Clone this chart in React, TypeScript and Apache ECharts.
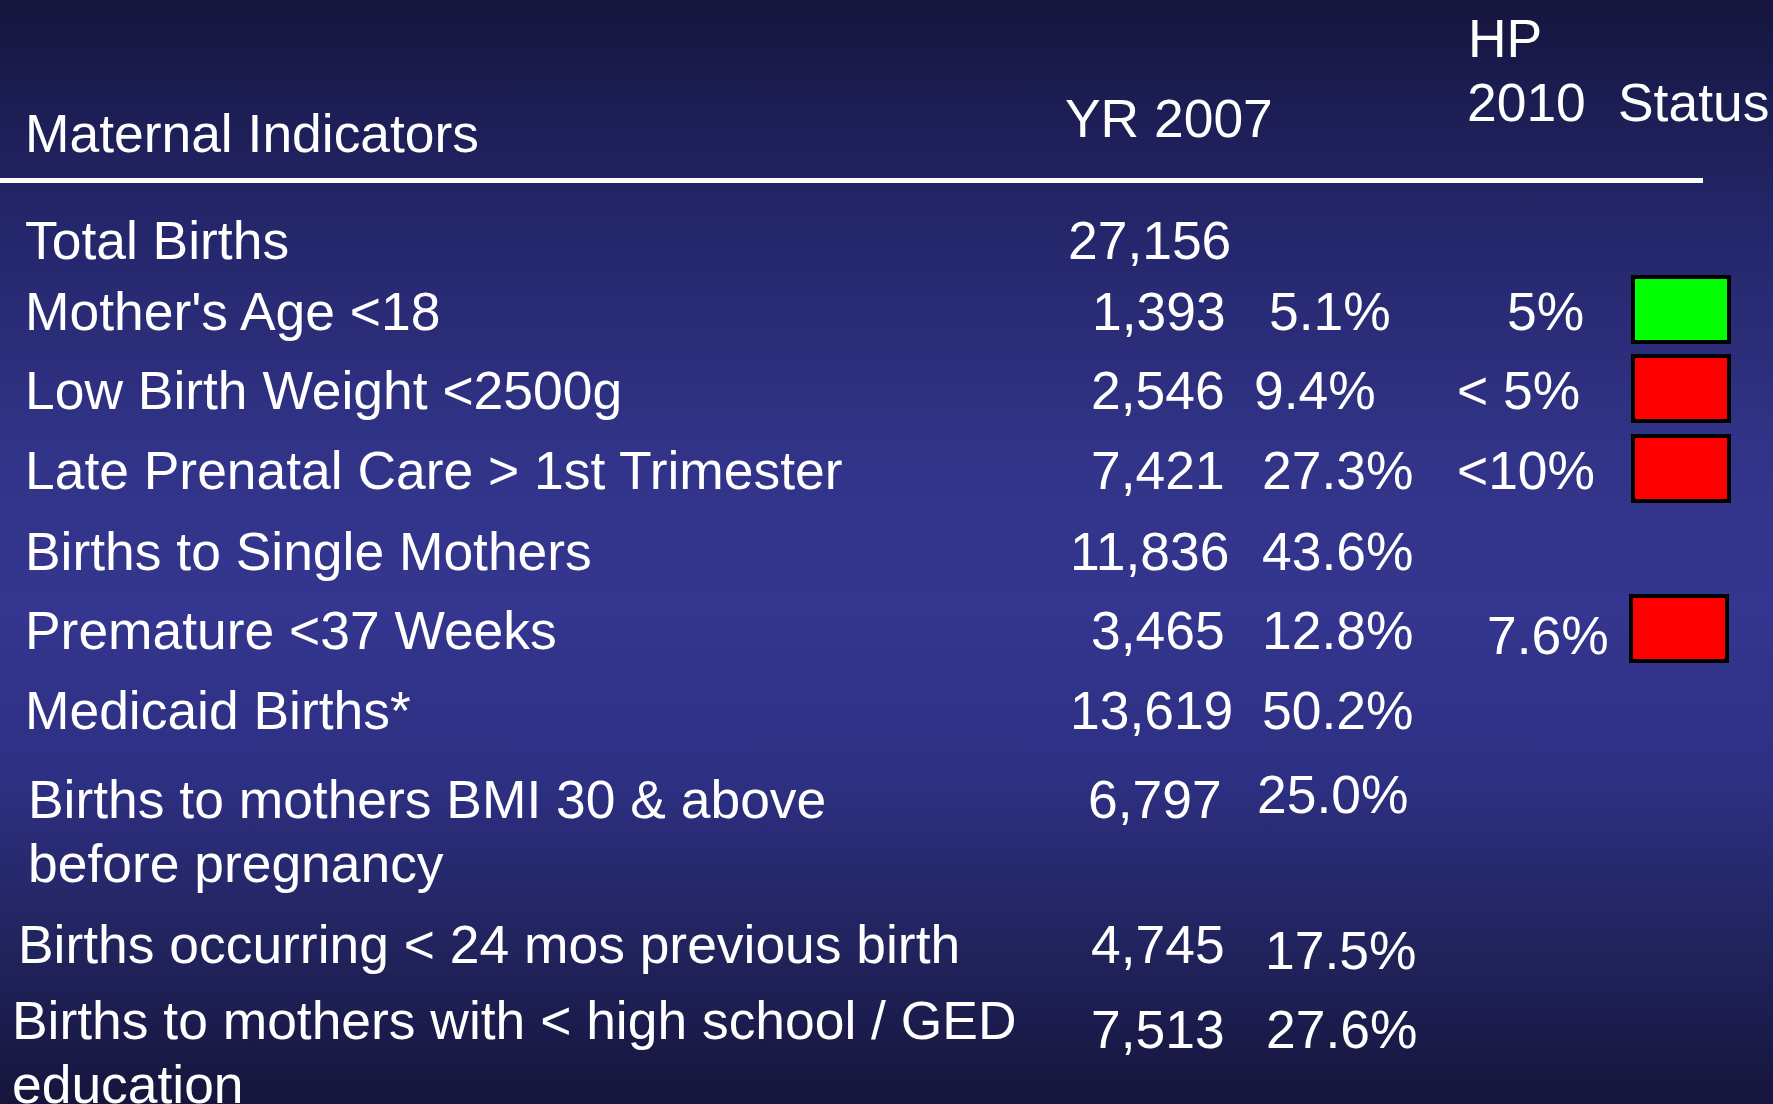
import React, { useEffect, useRef } from "react";
import * as echarts from "echarts";

// ---- data ----
const headerLabel = "Maternal Indicators";
const headerYear = "YR 2007";
const headerTarget = ["HP", "2010"];
const headerStatus = "Status";

const indicators = [
  "Total Births",
  "Mother's Age <18",
  "Low Birth Weight <2500g",
  "Late Prenatal Care > 1st Trimester",
  "Births to Single Mothers",
  "Premature <37 Weeks",
  "Medicaid Births*",
  "Births to mothers BMI 30 & above\nbefore pregnancy",
  "Births occurring < 24 mos previous birth",
  "Births to mothers with < high school / GED\neducation",
];
const counts = ["27,156", "1,393", "2,546", "7,421", "11,836", "3,465", "13,619", "6,797", "4,745", "7,513"];
const percents = ["", "5.1%", "9.4%", "27.3%", "43.6%", "12.8%", "50.2%", "25.0%", "17.5%", "27.6%"];
const targets = ["", "5%", "< 5%", "<10%", "", "7.6%", "", "", "", ""];
const statusMet: (boolean | null)[] = [null, true, false, false, null, false, null, null, null, null];

// ---- layout (positions only) ----
const W = 1773;
const H = 1104;
const FONT = "'Liberation Sans', Arial, Helvetica, sans-serif";
const FS = 53.4;
const rowY = [240, 311, 390, 470, 551, 630, 710, 831, 944, 1052];
const labelX = [25, 25, 25, 25, 25, 25, 25, 28, 18, 12];
const countY = [240, 311, 390, 470, 551, 630, 710, 799, 944, 1029];
const countX = [1068, 1092, 1091, 1091, 1070, 1091, 1070, 1088, 1091, 1091];
const pctY = [0, 311, 390, 470, 551, 630, 710, 794, 950, 1029];
const pctX = [0, 1269, 1254, 1262, 1262, 1262, 1262, 1257, 1265, 1266];
const targetY = [0, 311, 390, 470, 0, 635, 0, 0, 0, 0];
const targetX = [0, 1507, 1457, 1457, 0, 1487, 0, 0, 0, 0];
const boxX = [0, 1633, 1633, 1633, 0, 1631, 0, 0, 0, 0];

function txt(text: string, x: number, y: number, extra: any = {}) {
  return {
    type: "text",
    x,
    y,
    silent: true,
    style: {
      text,
      fill: "#ffffff",
      fontSize: FS,
      fontFamily: FONT,
      align: "left",
      verticalAlign: "middle",
      lineHeight: 64,
      ...extra,
    },
  };
}

export default function App() {
  const ref = useRef<HTMLDivElement>(null);
  useEffect(() => {
    if (!ref.current) return;
    const chart = echarts.init(ref.current, undefined, { renderer: "svg", width: W, height: H });
    const elements: any[] = [];
    elements.push({
      type: "rect",
      shape: { x: 0, y: 0, width: W, height: H },
      silent: true,
      style: {
        fill: new echarts.graphic.LinearGradient(0, 0, 0, 1, [
          { offset: 0, color: "#15153e" },
          { offset: 0.2, color: "#24266a" },
          { offset: 0.42, color: "#323489" },
          { offset: 0.55, color: "#34368f" },
          { offset: 0.7, color: "#2e3084" },
          { offset: 0.85, color: "#22245f" },
          { offset: 1, color: "#15153c" },
        ]),
      },
    });
    elements.push(txt(headerLabel, 25, 133));
    elements.push(txt(headerYear, 1065, 118));
    elements.push(txt(headerTarget[0], 1468, 38));
    elements.push(txt(headerTarget[1], 1467, 102));
    elements.push(txt(headerStatus, 1618, 102));
    elements.push({
      type: "rect",
      shape: { x: 0, y: 178, width: 1703, height: 5 },
      silent: true,
      style: { fill: "#ffffff" },
    });
    indicators.forEach((label, i) => {
      elements.push(txt(label, labelX[i], rowY[i]));
      elements.push(txt(counts[i], countX[i], countY[i]));
      if (percents[i]) elements.push(txt(percents[i], pctX[i], pctY[i]));
      if (targets[i]) elements.push(txt(targets[i], targetX[i], targetY[i]));
      if (statusMet[i] !== null) {
        elements.push({
          type: "rect",
          shape: { x: boxX[i], y: rowY[i] - 34, width: 96, height: 65 },
          silent: true,
          style: {
            fill: statusMet[i] ? "#00ff00" : "#ff0000",
            stroke: "#000000",
            lineWidth: 4,
          },
        });
      }
    });
    chart.setOption({
      animation: false,
      graphic: { elements },
    });
    return () => chart.dispose();
  }, []);
  return (
    <div
      ref={ref}
      style={{ position: "fixed", left: 0, top: 0, width: W, height: H, overflow: "hidden" }}
    />
  );
}
